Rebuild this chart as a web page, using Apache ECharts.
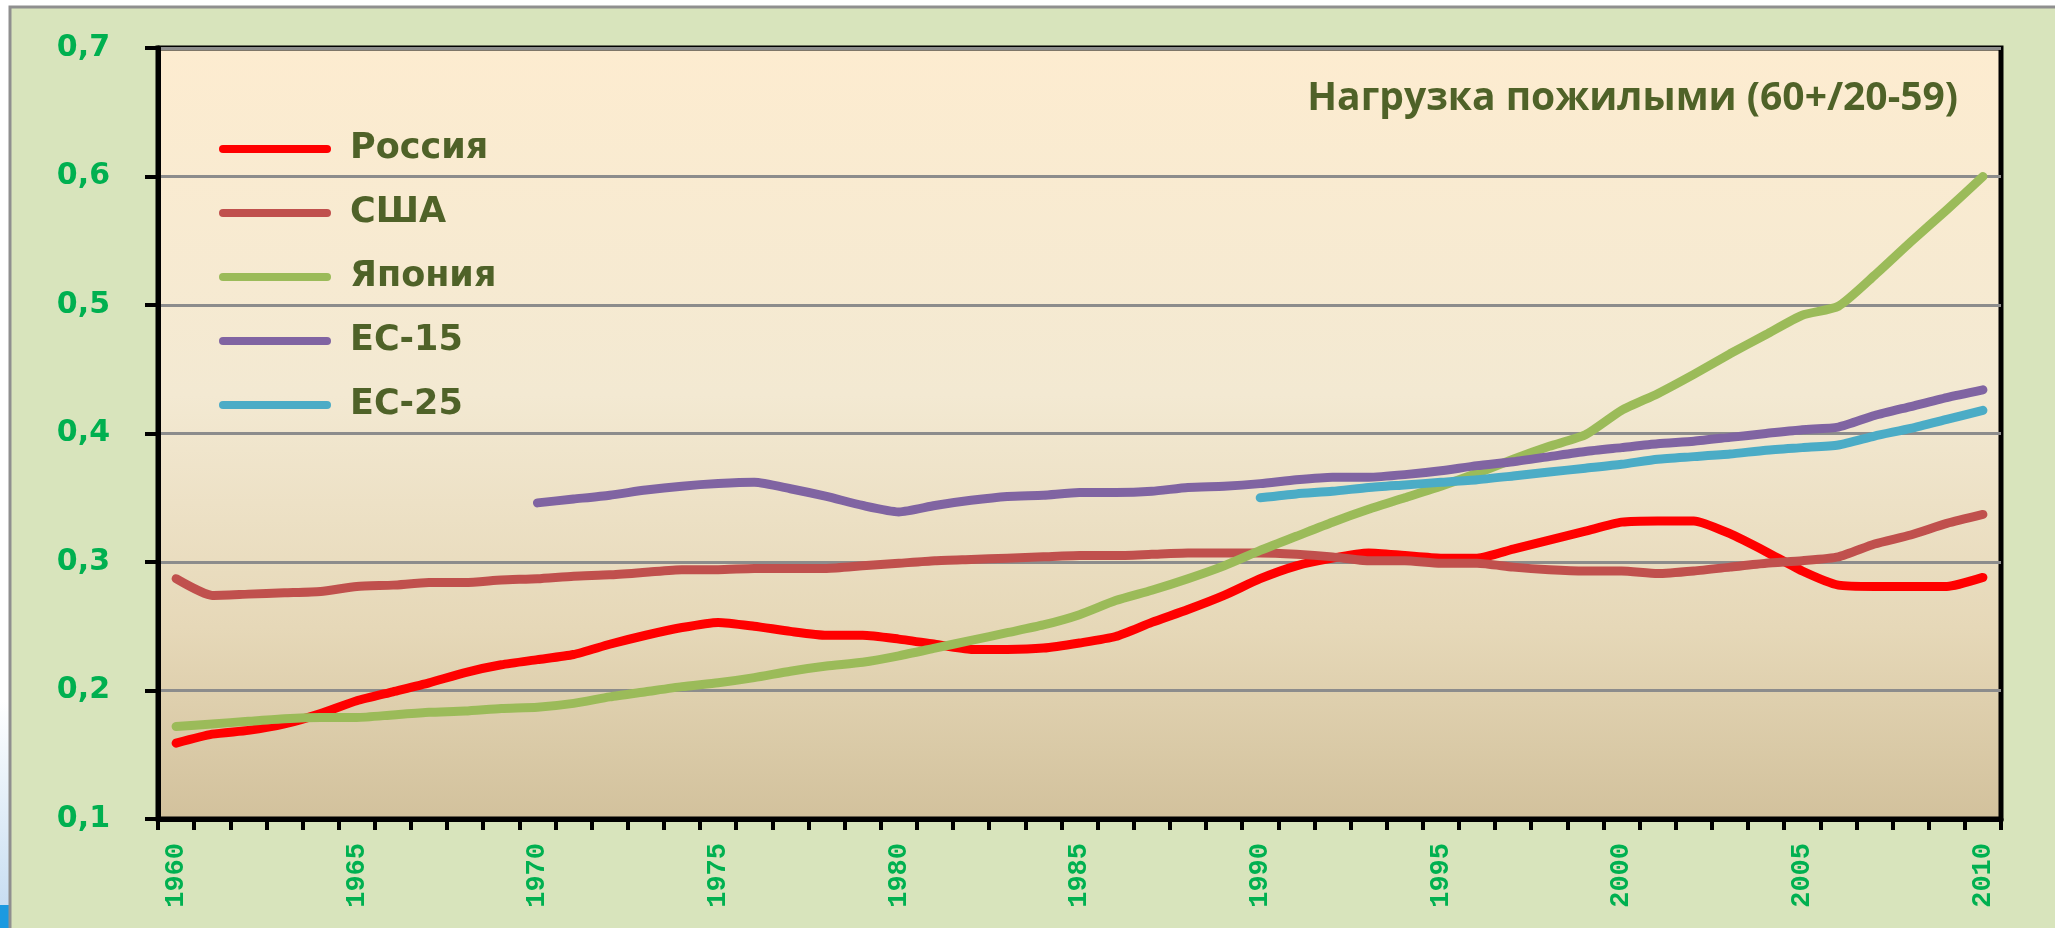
<!DOCTYPE html>
<html>
<head>
<meta charset="utf-8">
<script src="https://cdn.jsdelivr.net/npm/echarts@6/dist/echarts.min.js"></script>
<style>
html,body{margin:0;padding:0;background:#ffffff;}
#chart{width:2055px;height:928px;}
</style>
</head>
<body>
<div id="chart"></div>
<script>
var years = ['1960','1961','1962','1963','1964','1965','1966','1967','1968','1969',
             '1970','1971','1972','1973','1974','1975','1976','1977','1978','1979',
             '1980','1981','1982','1983','1984','1985','1986','1987','1988','1989',
             '1990','1991','1992','1993','1994','1995','1996','1997','1998','1999',
             '2000','2001','2002','2003','2004','2005','2006','2007','2008','2009','2010'];

var seriesNames = ['Россия','США','Япония','ЕС-15','ЕС-25'];

var russia = [0.159,0.166,0.169,0.174,0.182,0.192,0.199,0.206,0.214,0.220,
              0.224,0.228,0.236,0.243,0.249,0.253,0.250,0.246,0.243,0.243,
              0.240,0.236,0.232,0.232,0.233,0.237,0.242,0.253,0.263,0.274,
              0.287,0.297,0.303,0.307,0.305,0.303,0.303,0.310,0.317,0.324,
              0.331,0.332,0.332,0.322,0.308,0.293,0.282,0.281,0.281,0.281,0.288];

var usa = [0.287,0.274,0.275,0.276,0.277,0.281,0.282,0.284,0.284,0.286,
           0.287,0.289,0.290,0.292,0.294,0.294,0.295,0.295,0.295,0.297,
           0.299,0.301,0.302,0.303,0.304,0.305,0.305,0.306,0.307,0.307,
           0.307,0.306,0.304,0.301,0.301,0.299,0.299,0.296,0.294,0.293,
           0.293,0.291,0.293,0.296,0.299,0.301,0.304,0.314,0.321,0.330,0.337];

var japan = [0.172,0.174,0.176,0.178,0.179,0.179,0.181,0.183,0.184,0.186,
             0.187,0.190,0.195,0.199,0.203,0.206,0.210,0.215,0.219,0.222,
             0.227,0.233,0.239,0.245,0.251,0.259,0.270,0.278,0.287,0.297,
             0.309,0.320,0.331,0.341,0.350,0.359,0.369,0.380,0.390,0.399,
             0.418,0.431,0.446,0.462,0.477,0.492,0.499,0.523,0.549,0.574,0.600];

var eu15 = [null,null,null,null,null,null,null,null,null,null,
            0.346,0.349,0.352,0.356,0.359,0.361,0.362,0.357,0.351,0.344,
            0.339,0.344,0.348,0.351,0.352,0.354,0.354,0.355,0.358,0.359,
            0.361,0.364,0.366,0.366,0.368,0.371,0.375,0.378,0.382,0.386,
            0.389,0.392,0.394,0.397,0.400,0.403,0.405,0.414,0.421,0.428,0.434];

var eu25 = [null,null,null,null,null,null,null,null,null,null,
            null,null,null,null,null,null,null,null,null,null,
            null,null,null,null,null,null,null,null,null,null,
            0.350,0.353,0.355,0.358,0.360,0.362,0.364,0.367,0.370,0.373,
            0.376,0.380,0.382,0.384,0.387,0.389,0.391,0.398,0.404,0.411,0.418];

var colors = ['#ff0000','#c0504d','#9bbb59','#8064a2','#4bacc6'];
var allData = [russia, usa, japan, eu15, eu25];

var chart = echarts.init(document.getElementById('chart'));

var capsule = 'path://M4,0 L108,0 A4,4 0 0 1 108,8 L4,8 A4,4 0 0 1 4,0 Z';

var series = seriesNames.map(function(name, i){
  return {
    name: name,
    type: 'line',
    data: allData[i],
    symbol: 'none',
    smooth: 0.2,
    connectNulls: false,
    lineStyle: {color: colors[i], width: 9, cap: 'round', join: 'round'},
    itemStyle: {color: colors[i]},
    z: 3 + i
  };
});

var option = {
  backgroundColor: '#ffffff',
  animation: false,
  graphic: [
    {type:'rect', z:-10, shape:{x:0,y:700,width:10,height:205},
     style:{fill:new echarts.graphic.LinearGradient(0,0,0,1,[{offset:0,color:'#ffffff'},{offset:1,color:'#c8def2'}])}},
    {type:'rect', z:-10, shape:{x:0,y:905,width:12,height:23}, style:{fill:'#1b9ae0'}},
    {type:'rect', z:-9, shape:{x:10,y:7,width:2060,height:940},
     style:{fill:'#d8e4bc', stroke:'#8f8f8f', lineWidth:3}}
  ],
  title: {
    text: 'Нагрузка пожилыми (60+/20-59)',
    right: 92,
    top: 74,
    textStyle: {fontFamily:'Open Sans', fontWeight:'bold', fontSize:39, color:'#4f6228'}
  },
  legend: {
    orient: 'vertical',
    left: 214,
    top: 112,
    itemWidth: 112,
    itemHeight: 8,
    itemGap: 0,
    icon: capsule,
    data: seriesNames,
    selectedMode: false,
    textStyle: {fontFamily:'DejaVu Sans', fontWeight:'bold', fontSize:35, color:'#4f6228', lineHeight:64, padding:[0,0,0,14]}
  },
  grid: {
    left: 158, right: 54, top: 48, bottom: 109,
    show: true,
    borderColor: '#000000',
    borderWidth: 5,
    backgroundColor: new echarts.graphic.LinearGradient(0,0,0,1,[
      {offset:0, color:'#fdecd0'},
      {offset:0.45, color:'#f3e9d2'},
      {offset:0.75, color:'#e6d8b8'},
      {offset:1, color:'#d2c19c'}
    ])
  },
  xAxis: {
    type: 'category',
    data: years,
    boundaryGap: true,
    axisLine: {show:true, lineStyle:{color:'#000000', width:5}},
    axisTick: {show:true, interval:0, length:11, lineStyle:{color:'#000000', width:4}},
    axisLabel: {
      interval: 4, rotate: 90, margin: 24,
      fontFamily: 'Liberation Mono', fontWeight: 'bold', fontSize: 27, color: '#00b050'
    },
    splitLine: {show:false}
  },
  yAxis: {
    type: 'value',
    min: 0.1, max: 0.7, interval: 0.1,
    axisLine: {show:true, lineStyle:{color:'#000000', width:5}},
    axisTick: {show:true, length:13, lineStyle:{color:'#000000', width:4}},
    axisLabel: {
      margin: 48,
      fontFamily: 'DejaVu Sans', fontWeight: 'bold', fontSize: 30, color: '#00b050',
      formatter: function(v){ return v.toFixed(1).replace('.', ','); }
    },
    splitLine: {show:true, lineStyle:{color:'#8c8c8c', width:3}}
  },
  series: series
};

chart.setOption(option);
</script>
</body>
</html>
